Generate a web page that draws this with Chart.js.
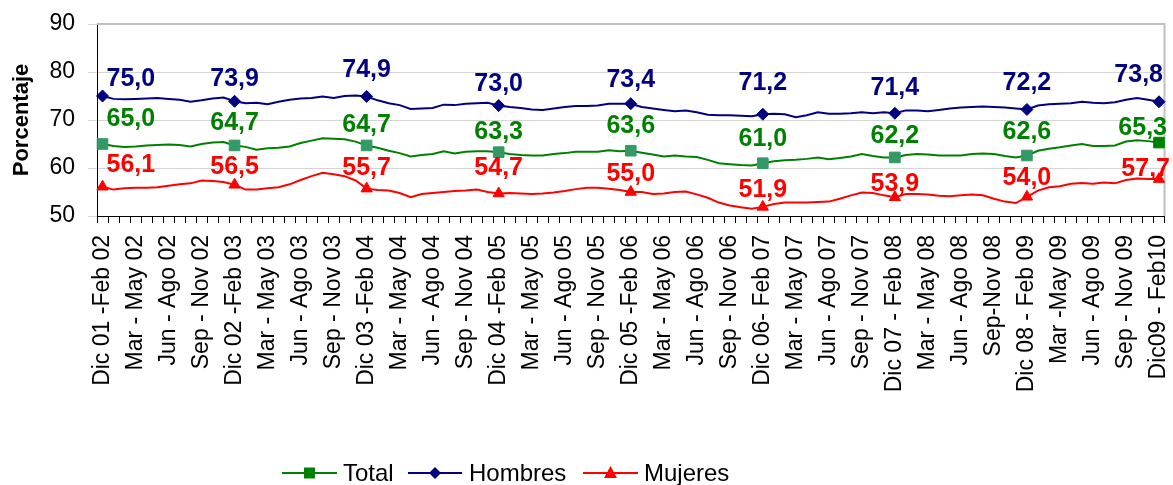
<!DOCTYPE html>
<html>
<head>
<meta charset="utf-8">
<script src="https://cdn.jsdelivr.net/npm/chart.js@4"></script>
<style>
  html, body { margin: 0; padding: 0; background: #ffffff; }
  #wrap { width: 1173px; height: 485px; position: relative; }
</style>
</head>
<body>
<div id="wrap"><canvas id="c" width="1173" height="485"></canvas></div>
<script>
// ---------------- DATA ----------------
const tickLabels = [
  "Dic 01 -Feb 02", "Mar - May 02", "Jun - Ago 02", "Sep - Nov 02",
  "Dic 02 -Feb 03", "Mar - May 03", "Jun - Ago 03", "Sep - Nov 03",
  "Dic 03 -Feb 04", "Mar - May 04", "Jun - Ago 04", "Sep - Nov 04",
  "Dic 04 -Feb 05", "Mar - May 05", "Jun - Ago 05", "Sep - Nov 05",
  "Dic 05 -Feb 06", "Mar - May 06", "Jun - Ago 06", "Sep - Nov 06",
  "Dic 06- Feb 07", "Mar - May 07", "Jun - Ago 07", "Sep - Nov 07",
  "Dic 07 - Feb 08", "Mar - May 08", "Jun - Ago 08", "Sep-Nov 08",
  "Dic 08 - Feb 09", "Mar -May 09", "Jun - Ago 09", "Sep - Nov 09",
  "Dic09 - Feb10"
];
// one category per rolling quarter (monthly), labelled every third one
const categories = Array.from({ length: 97 }, (_, i) => (i % 3 === 0 ? tickLabels[i / 3] : ""));

const seriesNames = ["Total", "Hombres", "Mujeres"];

const total = [
  65.0, 64.6, 64.4, 64.5, 64.7, 64.8, 64.9, 64.8, 64.5, 65.0, 65.3, 65.4,
  64.7, 64.4, 63.8, 64.1, 64.2, 64.5, 65.2, 65.7, 66.2, 66.1, 66.0, 65.5,
  64.7, 64.2, 63.6, 63.1, 62.4, 62.7, 62.9, 63.5, 63.0, 63.4, 63.5, 63.5,
  63.3, 62.9, 62.7, 62.6, 62.6, 62.9, 63.1, 63.4, 63.4, 63.4, 63.7, 63.5,
  63.6, 63.2, 62.8, 62.4, 62.6, 62.4, 62.3, 61.7, 61.0, 60.8, 60.6, 60.5,
  61.0, 61.4, 61.6, 61.7, 61.9, 62.2, 61.8, 62.1, 62.4, 62.9, 62.5, 62.2,
  62.2, 62.7, 62.9, 62.8, 62.6, 62.6, 62.6, 62.9, 63.0, 62.9, 62.5, 62.2,
  62.6, 63.6, 64.0, 64.3, 64.7, 65.0, 64.6, 64.6, 64.7, 65.5, 65.8, 65.6,
  65.3
];
const hombres = [
  75.0, 74.4, 74.3, 74.4, 74.5, 74.6, 74.4, 74.2, 73.8, 74.1, 74.5, 74.7,
  73.9, 73.5, 73.6, 73.3, 73.8, 74.2, 74.5, 74.6, 74.9, 74.6, 75.0, 75.1,
  74.9, 74.1, 73.5, 73.1, 72.3, 72.4, 72.5, 73.2, 73.1, 73.4, 73.5, 73.6,
  73.0, 72.7, 72.5, 72.2, 72.1, 72.4, 72.7, 72.9, 72.9, 73.0, 73.4, 73.4,
  73.4, 72.7, 72.4, 72.1, 71.8, 72.0, 71.6, 71.1, 71.0, 71.0, 70.9, 70.8,
  71.2, 71.3, 71.2, 70.6, 71.0, 71.6, 71.3, 71.3, 71.4, 71.6, 71.4, 71.6,
  71.4, 72.0, 72.0, 71.8, 72.1, 72.4, 72.6, 72.7, 72.8, 72.7, 72.6, 72.4,
  72.2, 73.0, 73.3, 73.4, 73.5, 73.8, 73.6, 73.5, 73.7, 74.2, 74.6, 74.2,
  73.8
];
const mujeres = [
  56.1, 55.5, 55.8, 55.9, 55.9, 56.0, 56.3, 56.6, 56.8, 57.4, 57.3, 57.1,
  56.5, 55.5, 55.5, 55.8, 56.0, 56.6, 57.5, 58.3, 59.0, 58.7, 58.3, 57.4,
  55.7, 55.4, 55.3, 54.8, 53.9, 54.6, 54.8, 55.0, 55.2, 55.3, 55.5, 55.0,
  54.7, 54.8, 54.7, 54.6, 54.7, 54.9, 55.2, 55.6, 55.9, 55.9, 55.7, 55.4,
  55.0, 55.0, 54.6, 54.7, 55.0, 55.1, 54.5, 53.8, 52.8, 52.2, 51.8, 51.5,
  51.9, 52.5, 52.8, 52.8, 52.8, 52.9, 53.0, 53.6, 54.3, 54.9, 54.8, 54.3,
  53.9, 54.6, 54.6, 54.5, 54.2, 54.1, 54.3, 54.5, 54.3, 53.6, 53.0, 52.7,
  54.0, 55.3, 56.0, 56.2, 56.7, 56.9, 56.7, 57.0, 56.8, 57.5, 57.8, 57.7,
  57.7
];
const yTicks = [50, 60, 70, 80, 90];

// ---------------- STYLE ----------------
const FONT = "'Liberation Sans', Arial, sans-serif";
Chart.defaults.font.family = FONT;
Chart.defaults.color = "#000000";

const colors = {
  Total: { line: "#008000", marker: "#339966", last: "#008000" },
  Hombres: { line: "#000080", marker: "#000080", last: "#000080" },
  Mujeres: { line: "#FF0000", marker: "#FF0000", last: "#FF0000" }
};
const LAST = categories.length - 1;
const isMarked = (i) => i % 12 === 0;

// vertical offset (px) of each value label above its marker, per series
const labelDy = {
  Total:   [-25, -22, -20, -20, -25, -24, -21, -23, -14],
  Hombres: [-17, -22, -26, -21, -24, -31, -25, -26, -27],
  Mujeres: [-22, -18, -21, -25, -18, -17, -13, -19, -10]
};
const lastLabelRight = { Total: 8, Hombres: 4, Mujeres: 11 };

function makeDataset(name, data, style, radius) {
  const c = colors[name];
  return {
    label: name,
    data: data,
    borderColor: c.line,
    borderWidth: 2,
    tension: 0,
    pointStyle: style,
    pointRadius: (ctx) => (isMarked(ctx.dataIndex) ? radius : 0),
    pointHoverRadius: (ctx) => (isMarked(ctx.dataIndex) ? radius : 0),
    pointBackgroundColor: (ctx) => (ctx.dataIndex === LAST ? c.last : c.marker),
    pointBorderColor: (ctx) => (ctx.dataIndex === LAST ? c.last : c.marker),
    pointBorderWidth: 1,
    clip: false
  };
}

const plotFrame = {
  id: "plotFrame",
  beforeDatasetsDraw(chart) {
    const { ctx, chartArea: a } = chart;
    ctx.save();
    ctx.strokeStyle = "#c0c0c0";
    ctx.lineWidth = 2;
    ctx.beginPath();
    ctx.moveTo(a.left, a.top);
    ctx.lineTo(a.right, a.top);
    ctx.lineTo(a.right, a.bottom);
    ctx.stroke();
    ctx.restore();
  }
};

const valueLabels = {
  id: "valueLabels",
  afterDatasetsDraw(chart) {
    const { ctx } = chart;
    ctx.save();
    ctx.font = "bold 25px " + FONT;
    ctx.textBaseline = "middle";
    chart.data.datasets.forEach((ds, d) => {
      const meta = chart.getDatasetMeta(d);
      const name = ds.label;
      let k = 0;
      ds.data.forEach((v, i) => {
        if (!isMarked(i)) return;
        const pt = meta.data[i];
        const txt = v.toFixed(1).replace(".", ",");
        let x = pt.x;
        ctx.textAlign = "center";
        if (i === 0) { ctx.textAlign = "left"; x = pt.x + 4; }
        if (i === LAST) { ctx.textAlign = "right"; x = pt.x + lastLabelRight[name]; }
        ctx.fillStyle = colors[name].line;
        ctx.fillText(txt, x, pt.y + labelDy[name][k]);
        k++;
      });
    });
    ctx.restore();
  }
};

function drawMarker(ctx, style, x, y, color) {
  ctx.fillStyle = color;
  ctx.beginPath();
  if (style === "rect") {
    ctx.rect(x - 5.5, y - 5.5, 11, 11);
  } else if (style === "rectRot") {
    ctx.moveTo(x - 6, y); ctx.lineTo(x, y - 6); ctx.lineTo(x + 6, y); ctx.lineTo(x, y + 6);
    ctx.closePath();
  } else {
    ctx.moveTo(x, y - 7); ctx.lineTo(x + 6.5, y + 5); ctx.lineTo(x - 6.5, y + 5);
    ctx.closePath();
  }
  ctx.fill();
}

const customLegend = {
  id: "customLegend",
  afterDraw(chart) {
    const { ctx } = chart;
    const items = [
      { name: "Total", style: "rect", x0: 282, x1: 337, tx: 343, color: "#008000" },
      { name: "Hombres", style: "rectRot", x0: 408, x1: 462, tx: 469, color: "#000080" },
      { name: "Mujeres", style: "triangle", x0: 583, x1: 638, tx: 644, color: "#FF0000" }
    ];
    const yc = 473;
    ctx.save();
    items.forEach((it) => {
      ctx.strokeStyle = it.color;
      ctx.lineWidth = 2;
      ctx.beginPath();
      ctx.moveTo(it.x0, yc);
      ctx.lineTo(it.x1, yc);
      ctx.stroke();
      drawMarker(ctx, it.style, (it.x0 + it.x1) / 2, yc, it.color);
      ctx.fillStyle = "#000000";
      ctx.font = "24px " + FONT;
      ctx.textAlign = "left";
      ctx.textBaseline = "alphabetic";
      ctx.fillText(it.name, it.tx, 481);
    });
    ctx.restore();
  }
};

new Chart(document.getElementById("c"), {
  type: "line",
  data: {
    labels: categories,
    datasets: [
      makeDataset(seriesNames[0], total, "rect", 7.5),
      makeDataset(seriesNames[1], hombres, "rectRot", 6),
      makeDataset(seriesNames[2], mujeres, "triangle", 6.5)
    ]
  },
  options: {
    responsive: false,
    animation: false,
    devicePixelRatio: 1,
    events: [],
    layout: { padding: { left: 0, right: 8, top: 24, bottom: 0 } },
    plugins: {
      legend: { display: false },
      tooltip: { enabled: false }
    },
    scales: {
      x: {
        type: "category",
        offset: true,
        afterFit(s) {
          s.height = 269;
          s.paddingLeft = 0;
          s.paddingRight = 0;
        },
        grid: {
          offset: true,
          drawOnChartArea: false,
          drawTicks: true,
          tickLength: 7,
          color: "#000000",
          lineWidth: 1
        },
        border: { display: true, color: "#000000", width: 1 },
        ticks: {
          autoSkip: false,
          maxRotation: 90,
          minRotation: 90,
          padding: 12,
          font: { size: 23 },
          color: "#000000"
        }
      },
      y: {
        min: 50,
        max: 90,
        afterFit(s) {
          s.width = 97;
          s.paddingTop = 0;
          s.paddingBottom = 0;
        },
        afterBuildTicks(s) { s.ticks = yTicks.map((v) => ({ value: v })); },
        grid: {
          color: "#d4d4d4",
          lineWidth: 1,
          drawTicks: true,
          tickLength: 9
        },
        border: { display: true, color: "#000000", width: 1 },
        ticks: {
          padding: 13,
          font: { size: 23 },
          color: "#000000"
        },
        title: {
          display: true,
          text: "Porcentaje",
          font: { size: 22, weight: "bold" },
          color: "#000000",
          padding: { top: 9, bottom: 0 }
        }
      }
    }
  },
  plugins: [plotFrame, valueLabels, customLegend]
});
</script>
</body>
</html>
